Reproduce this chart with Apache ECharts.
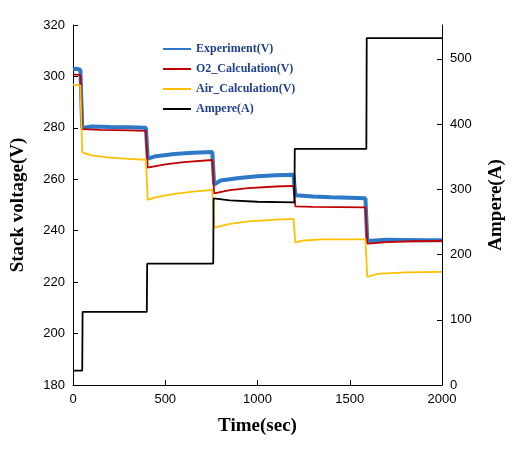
<!DOCTYPE html><html><head><meta charset="utf-8">
<script src="https://cdn.jsdelivr.net/npm/echarts@6/dist/echarts.min.js"></script>
<style>html,body{margin:0;padding:0;background:#fff}#c{width:522px;height:462px}</style></head><body><div id="c"></div>
<script>
const experiment=[[0,302.8],[20,303],[40,302.5],[50,280],[100,280.5],[200,280.3],[300,280.2],[395,280],[405,268],[450,269],[550,269.8],[650,270.3],[755,270.6],[765,258],[800,259.5],[900,260.5],[1000,261.2],[1100,261.6],[1195,261.8],[1205,253.8],[1300,253.3],[1400,253],[1500,252.8],[1585,252.6],[1595,236],[1700,236.5],[1800,236.4],[1900,236.3],[2000,236.3]];
const o2Calc=[[0,300.8],[40,300.5],[50,279.5],[150,279.2],[300,279],[395,278.8],[405,264.5],[500,265.8],[600,266.7],[755,267.5],[765,254.5],[850,255.8],[950,256.6],[1100,257.2],[1195,257.4],[1205,249.5],[1300,249.3],[1585,249.1],[1595,235],[1700,235.6],[1850,235.9],[2000,236]];
const airCalc=[[0,296.8],[40,296.5],[50,270.5],[100,269.3],[200,268.4],[300,267.9],[395,267.6],[405,252],[450,253.1],[550,254.3],[650,255.2],[755,255.9],[765,241.2],[850,242.7],[950,243.6],[1100,244.3],[1195,244.6],[1205,235.4],[1250,236.2],[1350,236.6],[1585,236.6],[1595,222],[1650,223.2],[1800,223.8],[2000,224]];
const ampere=[[0,22],[50,22],[52,112],[400,112],[402,186],[760,186],[762,286],[850,283],[1000,281],[1200,280],[1202,362],[1590,362],[1592,532],[2000,532]];
const serif='Liberation Serif';
const ch=echarts.init(document.getElementById('c'));
ch.setOption({
animation:false,
grid:{left:73,right:80,top:25,bottom:77},
legend:{orient:'vertical',left:158,top:38,itemGap:8,itemWidth:28,icon:'path://M0,4L28,4L28,6L0,6Z',
 textStyle:{fontFamily:serif,fontWeight:'bold',fontSize:12,color:'#1f3f8f'},
 data:['Experiment(V)','O2_Calculation(V)','Air_Calculation(V)','Ampere(A)']},
xAxis:{type:'value',min:0,max:2000,interval:500,
 name:'Time(sec)',nameLocation:'middle',nameGap:32,nameTextStyle:{fontFamily:serif,fontWeight:'bold',fontSize:19,color:'#000'},
 axisLine:{lineStyle:{color:'#000'}},axisTick:{inside:true,lineStyle:{color:'#000'}},splitLine:{show:false},
 axisLabel:{color:'#000',fontSize:13,fontFamily:'Liberation Sans',formatter:v=>String(v)}},
yAxis:[{type:'value',min:180,max:320,interval:20,
 name:'Stack voltage(V)',nameLocation:'middle',nameGap:45,nameTextStyle:{fontFamily:serif,fontWeight:'bold',fontSize:19,color:'#000'},
 axisLine:{show:true,lineStyle:{color:'#000'}},axisTick:{inside:true,lineStyle:{color:'#000'}},splitLine:{show:false},
 axisLabel:{color:'#000',fontSize:13,fontFamily:'Liberation Sans'}},
 {type:'value',min:0,max:552,interval:100,position:'right',
 name:'Ampere(A)',nameLocation:'middle',nameGap:45,nameRotate:90,nameTextStyle:{fontFamily:serif,fontWeight:'bold',fontSize:19,color:'#000'},
 axisLine:{show:true,lineStyle:{color:'#000'}},axisTick:{inside:true,lineStyle:{color:'#000'}},splitLine:{show:false},
 axisLabel:{color:'#000',fontSize:13,fontFamily:'Liberation Sans',showMaxLabel:false}}],
series:[
 {name:'Experiment(V)',type:'line',data:experiment,symbol:'circle',symbolSize:3,showSymbol:false,color:'#2e78c8',lineStyle:{width:4}},
 {name:'O2_Calculation(V)',type:'line',data:o2Calc,showSymbol:false,symbol:'none',color:'#c00000',lineStyle:{width:1.8}},
 {name:'Air_Calculation(V)',type:'line',data:airCalc,showSymbol:false,symbol:'none',color:'#ffc000',lineStyle:{width:1.8}},
 {name:'Ampere(A)',type:'line',yAxisIndex:1,data:ampere,showSymbol:false,symbol:'none',color:'#000',lineStyle:{width:1.8}}
]});
</script></body></html>
